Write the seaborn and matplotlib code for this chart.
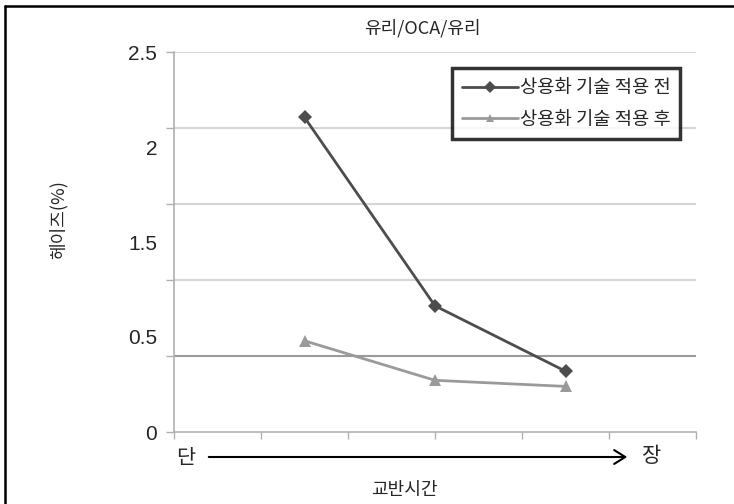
import numpy as np
import pandas as pd
import matplotlib
matplotlib.use("Agg")
import matplotlib.pyplot as plt
from matplotlib.lines import Line2D
from matplotlib.patches import FancyArrowPatch
import seaborn as sns

# ==========================================
# 데이터
# ==========================================
x_pos = [1.5, 3.0, 4.5]
haze_before = [2.07, 0.83, 0.40]
haze_after = [0.60, 0.34, 0.30]
series_names = ["상용화 기술 적용 전", "상용화 기술 적용 후"]
grid_values = [0, 0.5, 1.0, 1.5, 2.0, 2.5]
y_tick_labels = ["0", "0.5", "1.5", "2", "2.5"]

df = pd.DataFrame({
    "x": x_pos * 2,
    "haze": haze_before + haze_after,
    "series": [series_names[0]] * 3 + [series_names[1]] * 3,
})

# ==========================================
# 스타일
# ==========================================
sns.set_theme(style="white")
plt.rcParams["font.family"] = ["Noto Sans CJK KR", "DejaVu Sans"]
num_font = ["Liberation Sans Narrow", "Liberation Sans", "DejaVu Sans"]

fig = plt.figure(figsize=(7.34, 5.04), dpi=100)
ax = fig.add_axes([174 / 734, 72 / 504, 522 / 734, 380 / 504])

sns.lineplot(
    data=df, x="x", y="haze", hue="series", style="series",
    markers={series_names[0]: "D", series_names[1]: "^"},
    dashes=False,
    palette={series_names[0]: "#4d4d4d", series_names[1]: "#9a9a9a"},
    linewidth=2, markeredgewidth=0, ax=ax,
)
for line, ms in zip(ax.get_lines(), [7, 9]):
    line.set_markersize(ms)

ax.set_xlim(0, 6)
ax.set_ylim(0, 2.5)

# 격자선
for g in grid_values[1:]:
    ax.axhline(g, color="#9a9a9a" if g == 0.5 else "#d6d6d6",
               linewidth=1.5, zorder=0)

ax.yaxis.remove_overlapping_locs = False
ax.set_yticks(grid_values)
ax.set_yticklabels([])
ax.set_yticks(np.linspace(0, 2.5, len(y_tick_labels)), minor=True)
ax.set_yticklabels(y_tick_labels, minor=True, fontfamily=num_font, fontsize=15)
ax.tick_params(axis="y", which="major", left=True, length=6, color="#b0b0b0", width=1)
ax.tick_params(axis="y", which="minor", left=True, length=0, pad=12)

ax.set_xticks(np.arange(0, 7))
ax.set_xticklabels([])
ax.tick_params(axis="x", bottom=True, length=5, color="#b0b0b0", width=1)

for side in ["top", "right"]:
    ax.spines[side].set_visible(False)
for side in ["left", "bottom"]:
    ax.spines[side].set_color("#b0b0b0")
    ax.spines[side].set_linewidth(1.2)

ax.set_xlabel("")
ax.set_ylabel("")

leg = ax.legend(
    loc="upper right", bbox_to_anchor=(0.969, 0.958),
    fontsize=13.5, frameon=True, fancybox=False, handlelength=3.0,
    handletextpad=0.1, borderpad=0.5, labelspacing=0.55, borderaxespad=0,
)
leg.get_frame().set_edgecolor("black")
leg.get_frame().set_linewidth(2.5)
for h in leg.legend_handles:
    h.set_markersize(6)

# 텍스트
fig.text(422 / 734, 1 - 28 / 504, "유리/OCA/유리", ha="center", va="center", fontsize=13)
fig.text(58 / 734, 1 - 220 / 504, "헤이즈(%)", ha="center", va="center",
         rotation=90, fontsize=13)
fig.text(186 / 734, 1 - 458 / 504, "단", ha="center", va="center", fontsize=15)
fig.text(651 / 734, 1 - 456 / 504, "장", ha="center", va="center", fontsize=15)
fig.text(404 / 734, 1 - 490 / 504, "교반시간", ha="center", va="center", fontsize=13)

fig.add_artist(FancyArrowPatch(
    (206 / 734, 1 - 457 / 504), (630 / 734, 1 - 457 / 504),
    transform=fig.transFigure, arrowstyle="->,head_length=8,head_width=5",
    color="black", linewidth=1.5,
))

# 테두리 (위, 왼쪽)
fig.add_artist(Line2D([5 / 734, 1], [1 - 6 / 504, 1 - 6 / 504],
                      transform=fig.transFigure, color="black", linewidth=1.8))
fig.add_artist(Line2D([5 / 734, 5 / 734], [0, 1 - 6 / 504],
                      transform=fig.transFigure, color="black", linewidth=1.8))

plt.savefig("out.png", dpi=100)
